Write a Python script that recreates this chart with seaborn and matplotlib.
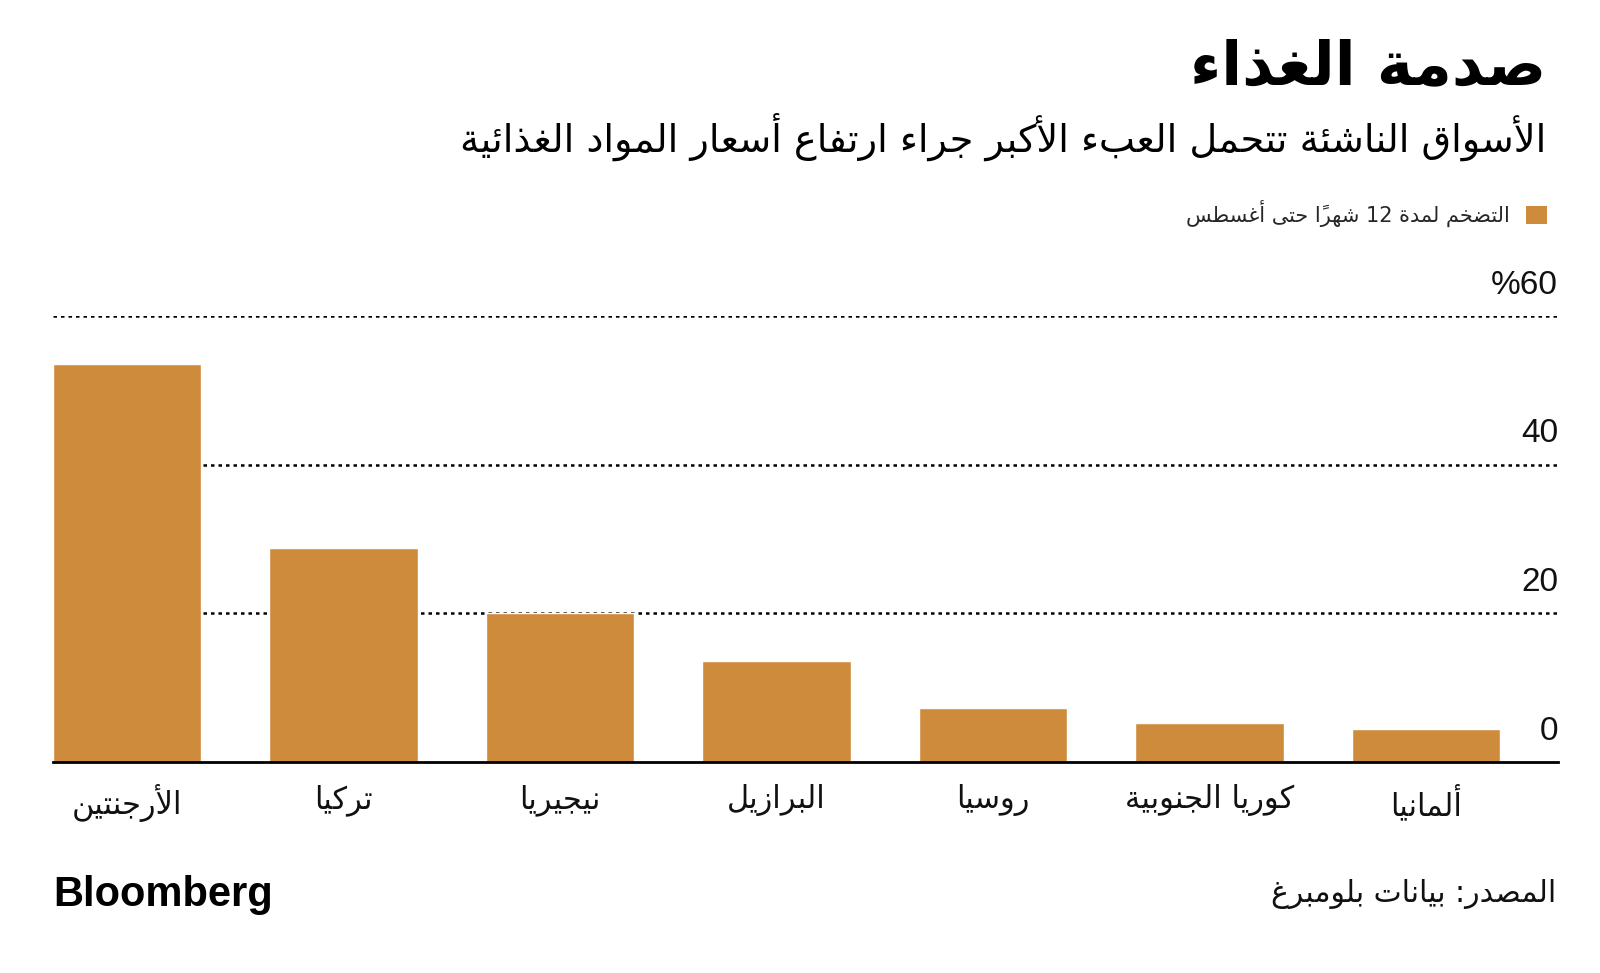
import unicodedata
import matplotlib
matplotlib.use("Agg")
import matplotlib.pyplot as plt
from matplotlib.patches import Patch
import seaborn as sns
import pandas as pd

# ---------------- data ----------------
countries = ["الأرجنتين", "تركيا", "نيجيريا", "البرازيل", "روسيا", "كوريا الجنوبية", "ألمانيا"]
inflation = [53.5, 28.8, 20.0, 13.6, 7.3, 5.2, 4.4]
yticks = [0, 20, 40, 60]
ytick_labels = ["0", "20", "40", "%60"]
title = "صدمة الغذاء"
subtitle = "الأسواق الناشئة تتحمل العبء الأكبر جراء ارتفاع أسعار المواد الغذائية"
legend_label = "التضخم لمدة 12 شهراً حتى أغسطس"
source = "المصدر: بيانات بلومبرغ"
brand = "Bloomberg"

BAR_COLOR = "#CF8B3C"

# ---------------- minimal Arabic shaping (presentation forms + visual order) ----------------
_TABLE = {
    'ء': (0xFE80, 1), 'آ': (0xFE81, 2), 'أ': (0xFE83, 2), 'ؤ': (0xFE85, 2), 'إ': (0xFE87, 2),
    'ئ': (0xFE89, 4), 'ا': (0xFE8D, 2), 'ب': (0xFE8F, 4), 'ة': (0xFE93, 2), 'ت': (0xFE95, 4),
    'ث': (0xFE99, 4), 'ج': (0xFE9D, 4), 'ح': (0xFEA1, 4), 'خ': (0xFEA5, 4), 'د': (0xFEA9, 2),
    'ذ': (0xFEAB, 2), 'ر': (0xFEAD, 2), 'ز': (0xFEAF, 2), 'س': (0xFEB1, 4), 'ش': (0xFEB5, 4),
    'ص': (0xFEB9, 4), 'ض': (0xFEBD, 4), 'ط': (0xFEC1, 4), 'ظ': (0xFEC5, 4), 'ع': (0xFEC9, 4),
    'غ': (0xFECD, 4), 'ف': (0xFED1, 4), 'ق': (0xFED5, 4), 'ك': (0xFED9, 4), 'ل': (0xFEDD, 4),
    'م': (0xFEE1, 4), 'ن': (0xFEE5, 4), 'ه': (0xFEE9, 4), 'و': (0xFEED, 2), 'ى': (0xFEEF, 2),
    'ي': (0xFEF1, 4),
}
_LAM_ALEF = {'آ': 0xFEF5, 'أ': 0xFEF7, 'إ': 0xFEF9, 'ا': 0xFEFB}


def shape(text):
    chars = list(text)
    units = []
    i = 0
    while i < len(chars):
        c = chars[i]
        if unicodedata.combining(c) and units:
            units[-1]['marks'] += c
            i += 1
            continue
        if c == 'ل':
            j = i + 1
            marks = ''
            while j < len(chars) and unicodedata.combining(chars[j]):
                marks += chars[j]
                j += 1
            if j < len(chars) and chars[j] in _LAM_ALEF:
                units.append({'ar': True, 'base': _LAM_ALEF[chars[j]], 'n': 2, 'marks': marks})
                i = j + 1
                continue
        if c in _TABLE:
            b, n = _TABLE[c]
            units.append({'ar': True, 'base': b, 'n': n, 'marks': ''})
        else:
            units.append({'ar': False, 'ch': c, 'marks': ''})
        i += 1
    clusters = []
    for k, u in enumerate(units):
        if not u['ar']:
            clusters.append((u['ch'] + u['marks'], u['ch'].isascii() and u['ch'].isalnum()))
            continue
        prev = units[k - 1] if k > 0 else None
        nxt = units[k + 1] if k + 1 < len(units) else None
        jp = prev is not None and prev['ar'] and prev['n'] == 4
        jn = u['n'] == 4 and nxt is not None and nxt['ar'] and nxt['n'] >= 2
        n = u['n']
        if n == 1:
            form = 0
        elif n == 2:
            form = 1 if jp else 0
        else:
            form = 3 if (jp and jn) else 1 if jp else 2 if jn else 0
        clusters.append((chr(u['base'] + form) + u['marks'], False))
    tokens = []
    for s, ltr in clusters:
        if ltr and tokens and tokens[-1][1]:
            tokens[-1] = (tokens[-1][0] + s, True)
        else:
            tokens.append((s, ltr))
    return ''.join(t for t, _ in reversed(tokens))


AR_FONT = ["DejaVu Sans"]
NUM_FONT = ["Liberation Sans", "DejaVu Sans"]

# ---------------- figure ----------------
sns.set_theme(style="white")
plt.rcParams['font.family'] = ["DejaVu Sans"]

W, H = 1600, 973
fig = plt.figure(figsize=(W / 100, H / 100), dpi=100)
fig.patch.set_facecolor("white")

ax_left, ax_right = 53 / W, 1558 / W
ax_bottom = (H - 762) / H
ax_top = (H - 316) / H
ax = fig.add_axes([ax_left, ax_bottom, ax_right - ax_left, ax_top - ax_bottom])

df = pd.DataFrame({"country": [shape(c) for c in countries], "value": inflation})
sns.barplot(data=df, x="country", y="value", color=BAR_COLOR, width=0.685,
            saturation=1, ax=ax, zorder=3)

ax.set_xlim(-0.3425, 6.61)
ax.set_ylim(0, 60)
ax.set_xlabel("")
ax.set_ylabel("")
ax.set_facecolor("white")

for s in ["top", "left", "right"]:
    ax.spines[s].set_visible(False)
ax.spines["bottom"].set_color("black")
ax.spines["bottom"].set_linewidth(2.0)
ax.spines["bottom"].set_zorder(4)

# dotted gridlines
ax.set_yticks(yticks)
ax.set_yticklabels([])
ax.tick_params(axis="y", length=0)
ax.set_axisbelow(True)
for v in yticks[1:]:
    ax.axhline(v, color="black", linewidth=1.8, linestyle=(0, (1.4, 1.6)), zorder=1)

# y labels on the right, above the lines
for v, lab in zip(yticks, ytick_labels):
    ax.annotate(lab, xy=(1.0, v), xycoords=("axes fraction", "data"),
                xytext=(0, 11), textcoords="offset points",
                ha="right", va="bottom", fontsize=24, family=NUM_FONT,
                color="#111111", annotation_clip=False)

# x labels
ax.tick_params(axis="x", length=0, pad=16)
for lab in ax.get_xticklabels():
    lab.set_fontsize(22)
    lab.set_family(AR_FONT)
    lab.set_color("#111111")

# ---------------- titles ----------------
fig.text(1546 / W, 1 - 68 / H, shape(title), ha="right", va="center",
         fontsize=44, fontweight="bold", family=AR_FONT, color="black")
fig.text(1546 / W, 1 - 137 / H, shape(subtitle), ha="right", va="center",
         fontsize=27.5, family=AR_FONT, color="black")

# legend (marker on the right, as in RTL layout)
handle = Patch(facecolor=BAR_COLOR, edgecolor="none")
leg = fig.legend([handle], [shape(legend_label)], loc="upper right",
                 bbox_to_anchor=(1547 / W, 1 - 200 / H), markerfirst=False,
                 frameon=False, handlelength=1.0, handleheight=1.0,
                 handletextpad=0.8, borderpad=0, borderaxespad=0,
                 prop={"family": AR_FONT, "size": 15})

# footer
fig.text(53 / W, 1 - 895 / H, brand, ha="left", va="center", fontsize=30,
         fontweight="heavy", family=["Liberation Sans", "DejaVu Sans"], color="black")
fig.text(1556 / W, 1 - 894 / H, shape(source), ha="right", va="center",
         fontsize=21.5, family=AR_FONT, color="#111111")

fig.savefig("out.png", dpi=100, facecolor="white")
